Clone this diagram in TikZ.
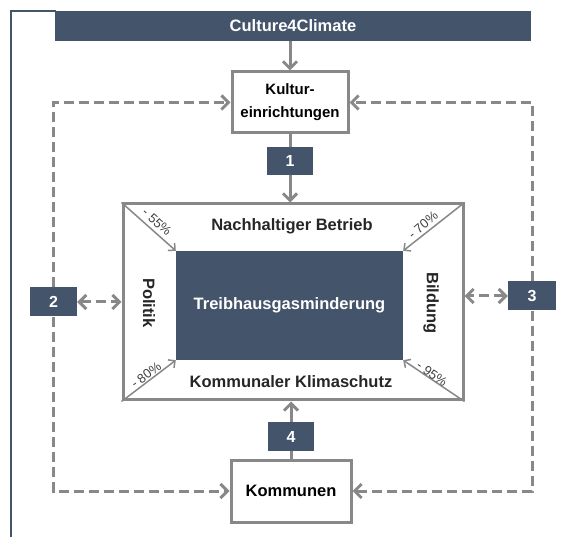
\documentclass[tikz,border=0pt]{standalone}
\usepackage{fontspec}
\setmainfont{Liberation Sans}
\usetikzlibrary{arrows.meta}
\definecolor{navy}{HTML}{44546A}
\definecolor{lgray}{HTML}{888888}
\definecolor{txtgray}{HTML}{404040}
\tikzset{
  navybox/.style={fill=navy, draw=none, text=white, font=\fontsize{16}{18}\selectfont\bfseries, inner sep=0pt},
  whitebox/.style={draw=lgray, line width=3pt, fill=white, font=\fontsize{16.5}{18}\selectfont\bfseries, align=center, inner sep=0pt},
  bigtip/.tip={Straight Barb[length=7pt, width=14pt, line width=3pt]},
  smalltip/.tip={Straight Barb[length=5pt, width=10pt, line width=1.5pt]},
  solidcon/.style={draw=lgray, line width=3pt},
  dashcon/.style={draw=lgray, line width=3pt, dash pattern=on 10pt off 5pt},
  diag/.style={draw=lgray, line width=1.5pt, -{smalltip}},
  pct/.style={font=\fontsize{13}{15}\selectfont, text=txtgray, inner sep=0pt},
  lbl/.style={font=\fontsize{16.5}{18}\selectfont\bfseries, text=black!85, inner sep=0pt}
}
\begin{document}
\begin{tikzpicture}[x=1pt,y=-1pt]
\useasboundingbox (0,0) rectangle (568,537);
% frame
\draw[navy, line width=2pt] (11,537) -- (11,11) -- (56,11);
% banner
\node[navybox, minimum width=476pt, minimum height=30pt, font=\fontsize{16.5}{18}\selectfont\bfseries] (banner) at (293,26) {Culture4Climate};
% boxes
\node[whitebox, minimum width=116pt, minimum height=61pt, font=\fontsize{15}{23}\selectfont\bfseries] (kultur) at (290,102.5) {Kultur-\\einrichtungen};
\node[navybox, minimum width=46pt, minimum height=28pt] (box1) at (290,161) {1};
\node[draw=lgray, line width=3pt, minimum width=340pt, minimum height=196pt, inner sep=0pt] (outer) at (293,302) {};
\node[fill=navy, minimum width=227pt, minimum height=109pt, inner sep=0pt, text=white, font=\fontsize{16.5}{18}\selectfont\bfseries] (inner) at (289.5,305.5) {Treibhausgasminderung};
\node[navybox, minimum width=47pt, minimum height=29pt] (box2) at (53.5,302) {2};
\node[navybox, minimum width=48pt, minimum height=29pt] (box3) at (532,296) {3};
\node[navybox, minimum width=46pt, minimum height=29pt] (box4) at (291,436.5) {4};
\node[whitebox, minimum width=120pt, minimum height=62pt] (kommunen) at (291,491) {Kommunen};
% labels
\node[lbl] (nb) at (292,226) {Nachhaltiger Betrieb};
\node[lbl] (kk) at (291,382) {Kommunaler Klimaschutz};
\node[lbl, rotate=-90] (pol) at (149,303) {Politik};
\node[lbl, rotate=-90] (bil) at (431,303) {Bildung};
% diagonals
\draw[diag] (outer.north west) -- (inner.north west);
\draw[diag] (outer.north east) -- (inner.north east);
\draw[diag] (outer.south west) -- (inner.south west);
\draw[diag] (outer.south east) -- (inner.south east);
\node[pct, rotate=-42] (p55) at (157,222) {- 55\%};
\node[pct, rotate=40] (p70) at (423,225) {- 70\%};
\node[pct, rotate=37] (p80) at (146,375) {- 80\%};
\node[pct, rotate=-35] (p95) at (432,374) {- 95\%};
% solid connectors
\draw[solidcon, -{bigtip}] (kultur.north |- banner.south) -- (kultur.north);
\draw[solidcon] (kultur.south) -- (box1.north);
\draw[solidcon, -{bigtip}] (box1.south) -- (box1.south |- outer.north);
\draw[solidcon] (kommunen.north) -- (box4.south);
\draw[solidcon, -{bigtip}] (box4.north) -- (box4.north |- outer.south);
% dashed connectors
\draw[dashcon, -{bigtip}] (box2.north) |- (kultur.west);
\draw[dashcon, -{bigtip}] (box2.south) |- (kommunen.west);
\draw[dashcon, -{bigtip}] (box3.north) |- (kultur.east);
\draw[dashcon, -{bigtip}] (box3.south) |- (kommunen.east);
\draw[dashcon, {bigtip}-{bigtip}] (box2.east) -- (box2.east -| outer.west);
\draw[dashcon, {bigtip}-{bigtip}] (box3.west) -- (box3.west -| outer.east);
\end{tikzpicture}
\end{document}
